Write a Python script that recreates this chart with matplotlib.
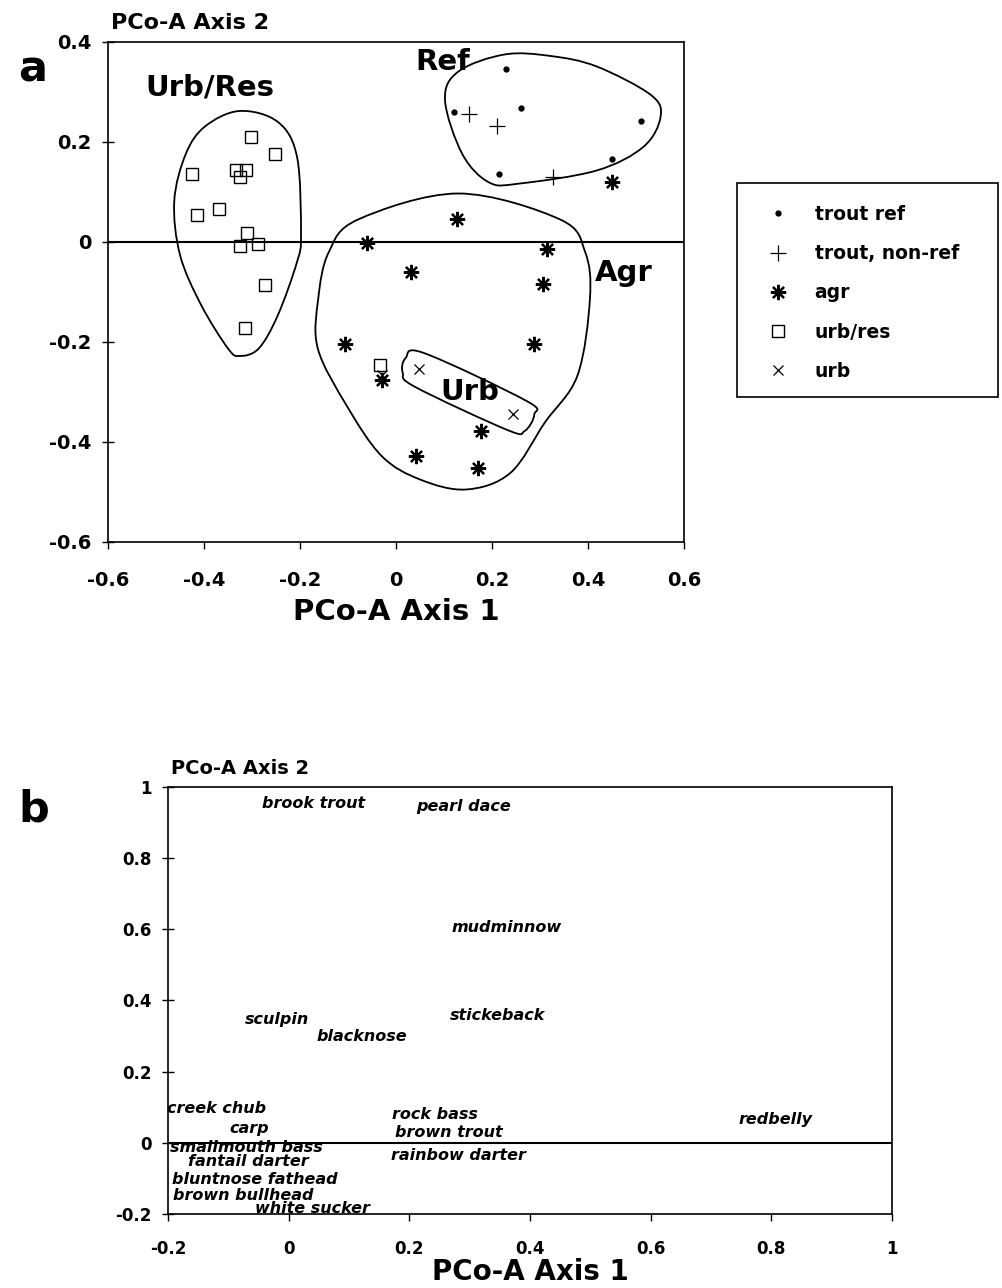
import numpy as np
import matplotlib.pyplot as plt
from matplotlib.path import Path
from matplotlib.patches import PathPatch, Rectangle

plt.rcParams["font.family"] = ["DejaVu Sans"]
plt.rcParams["font.weight"] = "bold"
plt.rcParams["axes.unicode_minus"] = False

# ---- panel a: site scores ----
trout_ref_x = [0.23, 0.12, 0.26, 0.51, 0.45, 0.215]
trout_ref_y = [0.346, 0.259, 0.267, 0.241, 0.165, 0.136]
trout_nonref_x = [0.152, 0.211, 0.327]
trout_nonref_y = [0.256, 0.232, 0.129]
agr_x = [0.449, 0.128, -0.060, 0.314, 0.031, 0.306, -0.107, 0.288, -0.029, 0.176, 0.042, 0.170]
agr_y = [0.119, 0.046, -0.003, -0.015, -0.060, -0.085, -0.205, -0.205, -0.277, -0.378, -0.428, -0.453]
urbres_x = [-0.303, -0.253, -0.425, -0.333, -0.313, -0.325, -0.369, -0.415, -0.311, -0.325, -0.287,
            -0.273, -0.315, -0.033]
urbres_y = [0.210, 0.176, 0.136, 0.143, 0.143, 0.129, 0.065, 0.053, 0.018, -0.009, -0.004,
            -0.086, -0.173, -0.246]
urb_x = [0.048, 0.244, -0.030]
urb_y = [-0.254, -0.345, -0.266]

# group outlines (control points, data units)
ref_outline = [(0.226, 0.375), (0.130, 0.341), (0.102, 0.284), (0.138, 0.176), (0.194, 0.119),
               (0.258, 0.117), (0.418, 0.143), (0.515, 0.190), (0.551, 0.250), (0.531, 0.294),
               (0.418, 0.351), (0.322, 0.372)]
agr_outline = [(0.130, 0.097), (0.342, 0.045), (0.394, -0.020), (0.404, -0.113), (0.378, -0.267),
               (0.310, -0.361), (0.238, -0.462), (0.146, -0.495), (0.050, -0.475), (-0.030, -0.428),
               (-0.103, -0.327), (-0.163, -0.213), (-0.162, -0.113), (-0.140, -0.020),
               (-0.079, 0.045)]
urbres_outline = [(-0.326, 0.262), (-0.246, 0.240), (-0.206, 0.169), (-0.198, 0.015),
                  (-0.206, -0.039), (-0.246, -0.146), (-0.286, -0.213), (-0.326, -0.228),
                  (-0.350, -0.213), (-0.406, -0.126), (-0.450, -0.026), (-0.462, 0.082),
                  (-0.438, 0.176), (-0.398, 0.231)]
urb_outline = [(0.020, -0.232), (0.058, -0.222), (0.272, -0.318), (0.288, -0.345), (0.268, -0.378),
               (0.232, -0.376), (0.040, -0.290), (0.014, -0.262)]

group_labels = ["Urb/Res", "Ref", "Agr", "Urb"]
group_label_x = [-0.523, 0.04, 0.415, 0.092]
group_label_y = [0.308, 0.36, -0.062, -0.30]

a_xticks = [-0.6, -0.4, -0.2, 0, 0.2, 0.4, 0.6]
a_xticklabels = ["-0.6", "-0.4", "-0.2", "0", "0.2", "0.4", "0.6"]
a_yticks = [-0.6, -0.4, -0.2, 0, 0.2, 0.4]
a_yticklabels = ["-0.6", "-0.4", "-0.2", "0", "0.2", "0.4"]

# ---- panel b: species scores ----
species = ["brook trout", "pearl dace", "mudminnow", "sculpin", "blacknose", "stickeback",
           "creek chub", "carp", "smallmouth bass", "fantail darter", "bluntnose fathead",
           "brown bullhead", "white sucker", "rock bass", "brown trout", "rainbow darter",
           "redbelly"]
species_x = [-0.044, 0.211, 0.270, -0.073, 0.046, 0.267,
             -0.201, -0.099, -0.197, -0.167, -0.193, -0.191, -0.056,
             0.172, 0.177, 0.169, 0.745]
species_y = [0.953, 0.945, 0.604, 0.347, 0.300, 0.358,
             0.095, 0.041, -0.012, -0.054, -0.103, -0.148, -0.184,
             0.079, 0.028, -0.037, 0.066]

b_xticks = [-0.2, 0, 0.2, 0.4, 0.6, 0.8, 1]
b_xticklabels = ["-0.2", "0", "0.2", "0.4", "0.6", "0.8", "1"]
b_yticks = [-0.2, 0, 0.2, 0.4, 0.6, 0.8, 1]
b_yticklabels = ["-0.2", "0", "0.2", "0.4", "0.6", "0.8", "1"]


def closed_curve(points):
    # smooth closed outline through the points, drawn as cubic bezier segments
    p = np.array(points, dtype=float)
    n = len(p)
    verts = [p[0]]
    codes = [Path.MOVETO]
    for i in range(n):
        p0, p1, p2, p3 = p[i - 1], p[i], p[(i + 1) % n], p[(i + 2) % n]
        verts += [p1 + (p2 - p0) / 6, p2 - (p3 - p1) / 6, p2]
        codes += [Path.CURVE4] * 3
    return Path(verts, codes)


fig = plt.figure(figsize=(10.03, 12.88), dpi=100)

# panel a
ax = fig.add_axes([0.1077, 0.5792, 0.5743, 0.3882])
ax.plot(trout_ref_x, trout_ref_y, "o", color="black", ms=3.5, ls="none", label="trout ref")
ax.plot(trout_nonref_x, trout_nonref_y, "+", color="black", ms=11, mew=0.9, ls="none",
        label="trout, non-ref")
ax.plot(agr_x, agr_y, marker=(8, 2, 0), color="black", ms=11, mew=1.6, ls="none", label="agr")
ax.plot(urbres_x, urbres_y, "s", mfc="none", mec="black", ms=9, mew=1.0, ls="none",
        label="urb/res")
ax.plot(urb_x, urb_y, "x", color="black", ms=7, mew=0.9, ls="none", label="urb")

for outline in [ref_outline, agr_outline, urbres_outline, urb_outline]:
    ax.add_patch(PathPatch(closed_curve(outline), fill=False, ec="black", lw=1.3))

for lab, lx, ly in zip(group_labels, group_label_x, group_label_y):
    ax.text(lx, ly, lab, fontsize=21, fontweight="bold", va="center", ha="left")

ax.axhline(0, color="black", lw=1.5)
ax.set_xlim(-0.6, 0.6)
ax.set_ylim(-0.6, 0.4)
ax.set_xticks(a_xticks, a_xticklabels)
ax.set_yticks(a_yticks, a_yticklabels)
ax.tick_params(axis="x", direction="out", length=5, pad=16, labelsize=14, width=1)
ax.tick_params(axis="y", direction="inout", length=8, pad=8, labelsize=14, width=1)
for s in ax.spines.values():
    s.set_linewidth(1.2)
ax.set_xlabel("PCo-A Axis 1", fontsize=21, fontweight="bold", labelpad=6)

fig.text(0.111, 1 - 23 / 1288, "PCo-A Axis 2", fontsize=16, fontweight="bold", va="center")
fig.text(0.018, 1 - 70 / 1288, "a", fontsize=31, fontweight="bold", va="center")

# legend with a fixed frame
fig.patches.append(Rectangle((737 / 1003, 1 - 397 / 1288), 261 / 1003, 214 / 1288,
                             transform=fig.transFigure, fill=False, ec="black", lw=1.2))
leg = fig.legend(*ax.get_legend_handles_labels(), loc="upper left",
                 bbox_to_anchor=(764 / 1003, 1 - 205 / 1288), fontsize=13.5, frameon=False,
                 borderpad=0, labelspacing=1.08, handlelength=1.5, handletextpad=1.2,
                 borderaxespad=0)
for t in leg.get_texts():
    t.set_fontweight("bold")

# panel b
bx = fig.add_axes([0.1675, 0.0575, 0.7218, 0.3315])
for name, sx, sy in zip(species, species_x, species_y):
    bx.text(sx, sy, name, fontsize=11.5, fontweight="bold", fontstyle="italic",
            ha="left", va="center")
bx.axhline(0, color="black", lw=1.5)
bx.set_xlim(-0.2, 1)
bx.set_ylim(-0.2, 1)
bx.set_xticks(b_xticks, b_xticklabels)
bx.set_yticks(b_yticks, b_yticklabels)
bx.tick_params(axis="x", direction="out", length=5, pad=14, labelsize=12, width=1)
bx.tick_params(axis="y", direction="inout", length=8, pad=8, labelsize=12, width=1)
for s in bx.spines.values():
    s.set_linewidth(1.2)
bx.set_xlabel("PCo-A Axis 1", fontsize=20, fontweight="bold", labelpad=0)

fig.text(0.170, 1 - 768 / 1288, "PCo-A Axis 2", fontsize=14, fontweight="bold", va="center")
fig.text(0.018, 1 - 810 / 1288, "b", fontsize=31, fontweight="bold", va="center")

plt.savefig("out.png", dpi=100)
